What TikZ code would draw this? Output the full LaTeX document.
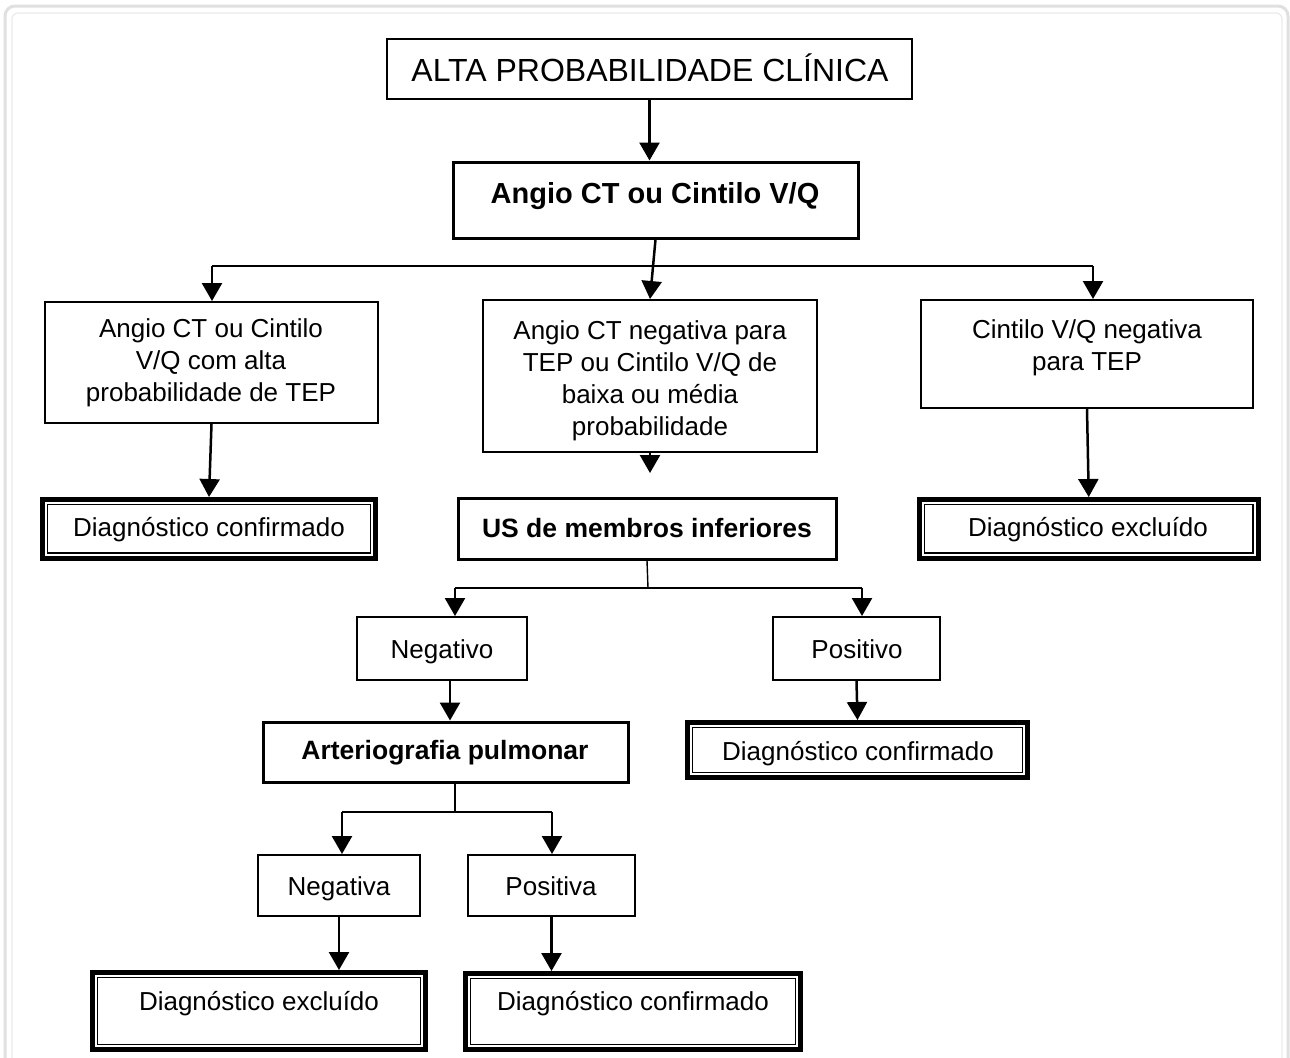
\documentclass[tikz,border=0pt]{standalone}
\usepackage{fontspec}
\setmainfont{Liberation Sans}
\usetikzlibrary{arrows.meta,fit,calc}
\definecolor{frameout}{HTML}{E0E0E0}
\definecolor{framein}{HTML}{EAEAEA}
\begin{document}
\begin{tikzpicture}[x=0.5pt,y=-0.5pt,
  box/.style={draw, line width=1pt, inner sep=0pt},
  bbox/.style={draw, line width=1.5pt, inner sep=0pt},
  dbox/.style={draw, line width=2.5pt, inner sep=0pt,
    path picture={\draw[line width=0.75pt]
      ([shift={(2.4pt,-2.4pt)}]path picture bounding box.north west) rectangle
      ([shift={(-2.4pt,2.4pt)}]path picture bounding box.south east);}},
  txt/.style={font=\fontsize{13}{16}\selectfont, align=center, inner sep=0pt},
  ltxt/.style={txt, anchor=base},
  btxt/.style={font=\fontsize{13.25}{16}\selectfont\bfseries, align=center, inner sep=0pt, anchor=base},
  arr/.style={-{Triangle[width=10pt,length=9pt]}, line width=1.25pt},
  bar/.style={line width=0.7pt}
]
\useasboundingbox (0,0) rectangle (1290,1057);
% frame
\draw[frameout, line width=1.5pt, rounded corners=5pt] (5,6) rectangle (1288,1120);
\draw[framein, line width=0.6pt, rounded corners=3pt] (12,13) rectangle (1282,1120);

% boxes
\node[fit={(387,39) (912,99)}, box, line width=1.2pt] (title) {};
\node[ltxt, font=\fontsize{16}{19}\selectfont] (titlet) at (650,81.5) {ALTA PROBABILIDADE CLÍNICA};

\node[fit={(453,162) (858,238)}, bbox] (angio) {};
\node[btxt, font=\fontsize{14.5}{17}\selectfont\bfseries] (angiot) at (655,203) {Angio CT ou Cintilo V/Q};

\node[fit={(45,302) (378,423)}, box] (lb) {};
\node[txt] (lbt) at (211,363) {Angio CT ou Cintilo\\V/Q com alta\\probabilidade de TEP};

\node[fit={(483,300) (817,452)}, box] (mid) {};
\node[txt] (midt) at (650,381) {Angio CT negativa para\\TEP ou Cintilo V/Q de\\baixa ou média\\probabilidade};

\node[fit={(921,300) (1253,408)}, box] (rb) {};
\node[txt] (rbt) at (1087,348) {Cintilo V/Q negativa\\para TEP};

\node[fit={(42.5,499.5) (375.5,558)}, dbox] (dc1) {};
\node[ltxt] (dc1t) at (209,536) {Diagnóstico confirmado};

\node[fit={(458,498) (836,559)}, bbox] (us) {};
\node[btxt] (ust) at (647,537) {US de membros inferiores};

\node[fit={(919.5,499.5) (1258,558)}, dbox] (de1) {};
\node[ltxt] (de1t) at (1088,536) {Diagnóstico excluído};

\node[fit={(357,617) (527,680)}, box] (neg) {};
\node[ltxt] (negt) at (442,658) {Negativo};

\node[fit={(773,617) (940,680)}, box] (pos) {};
\node[ltxt] (post) at (857,658) {Positivo};

\node[fit={(263,722) (628,782)}, bbox] (art) {};
\node[btxt] (artt) at (445,759.5) {Arteriografia pulmonar};

\node[fit={(687.5,722.5) (1027.5,777.5)}, dbox] (dc2) {};
\node[ltxt] (dc2t) at (858,760) {Diagnóstico confirmado};

\node[fit={(258,855) (420,916)}, box] (neg2) {};
\node[ltxt] (neg2t) at (339,895) {Negativa};

\node[fit={(468,855) (635,916)}, box] (pos2) {};
\node[ltxt] (pos2t) at (551,895) {Positiva};

\node[fit={(92.5,972.5) (425.5,1049.5)}, dbox] (de2) {};
\node[ltxt] (de2t) at (259,1010) {Diagnóstico excluído};

\node[fit={(465.5,973.5) (800.5,1049.5)}, dbox] (dc3) {};
\node[ltxt] (dc3t) at (633,1010) {Diagnóstico confirmado};

% connectors
\draw[arr] (title.south) -- (title.south |- angio.north);

\coordinate (bL) at (212,266);
\coordinate (bR) at (1093,266);
\draw[bar] (bL) -- (bR);
\draw[arr] (angio.south) -- (mid.north);
\draw[arr] (bL) -- (bL |- lb.north);
\draw[arr] (bR) -- (bR |- rb.north);

\draw[arr] (lb.south) -- (dc1.north);
\coordinate (mEnd) at (650,473);
\draw[arr] (mid.south) -- (mEnd);
\draw[arr] (rb.south) -- (de1.north);

\coordinate (j2) at (648,588);
\coordinate (j2L) at (455,588);
\coordinate (j2R) at (862,588);
\draw[bar] (us.south) -- (j2);
\draw[bar] (j2L) -- (j2R);
\draw[arr] (j2L) -- (j2L |- neg.north);
\draw[arr] (j2R) -- (j2R |- pos.north);

\draw[arr] ([xshift=4pt]neg.south) -- ([xshift=4pt]neg.south |- art.north);
\draw[arr] (pos.south) -- (dc2.north);

\coordinate (j3) at (455,812);
\coordinate (j3L) at (342,812);
\coordinate (j3R) at (552,812);
\draw[bar] ([xshift=4.75pt]art.south) -- (j3);
\draw[bar] (j3L) -- (j3R);
\draw[arr] (j3L) -- (j3L |- neg2.north);
\draw[arr] (j3R) -- (j3R |- pos2.north);

\draw[arr] (neg2.south) -- (neg2.south |- de2.north);
\draw[arr] (pos2.south) -- (pos2.south |- dc3.north);
\end{tikzpicture}
\end{document}
